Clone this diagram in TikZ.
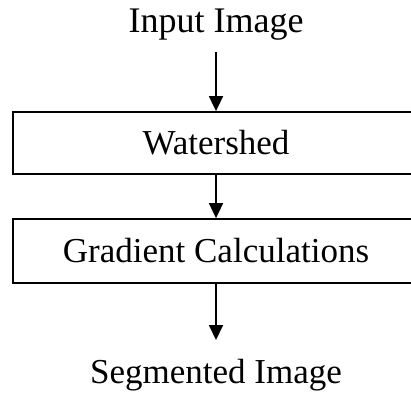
\documentclass[tikz,border=0pt]{standalone}
\usepackage{fontspec}
\setmainfont{Liberation Serif}
\usetikzlibrary{arrows.meta}
\begin{document}
\begin{tikzpicture}[x=1pt,y=-1pt,
  lbl/.style={inner sep=0pt, font=\fontsize{35}{40}\selectfont},
  procbox/.style={draw, line width=1.8pt, minimum width=406pt, inner sep=0pt, font=\fontsize{35}{40}\selectfont},
  arr/.style={line width=1.8pt, -{Triangle[width=14pt,length=15pt]}}]
\clip (0,0) rectangle (411,394);
\node[lbl, font=\fontsize{36}{40}\selectfont, anchor=base] (in) at (216,32) {Input Image};
\node[procbox, minimum height=62pt] (w) at (216,143) {Watershed};
\node[procbox, minimum height=64pt] (g) at (216,251) {Gradient Calculations};
\node[lbl, anchor=base] (out) at (216,383) {Segmented Image};
\coordinate (s1) at (216,52);
\coordinate (t3) at (216,340);
\draw[arr] (s1) -- (w.north);
\draw[arr] (w.south) -- (g.north);
\draw[arr] (g.south) -- (t3);
\end{tikzpicture}
\end{document}
